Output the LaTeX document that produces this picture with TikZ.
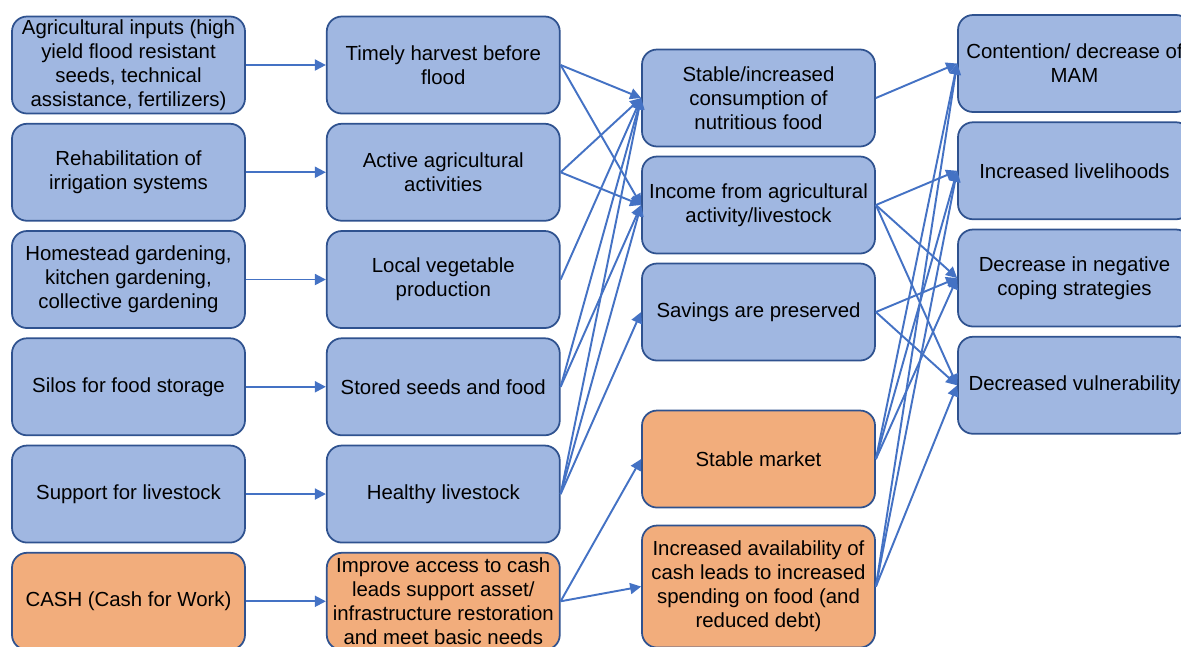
\documentclass[tikz,border=0pt]{standalone}
\usepackage{fontspec}
\setmainfont{Liberation Sans}
\usetikzlibrary{positioning, arrows.meta}

\definecolor{boxblue}{HTML}{A0B7E1}
\definecolor{boxorange}{HTML}{F2AD7C}
\definecolor{edgeblue}{HTML}{2F528F}
\definecolor{arrowblue}{HTML}{4472C4}

\begin{document}
\begin{tikzpicture} %Flood resilience pathway
	\tikzstyle{bluebox} = [rectangle, rounded corners=0.3cm, draw=edgeblue, line width=1pt, fill=boxblue, minimum width=4.66cm, minimum height=1.94cm, inner sep=1pt, align=center, font=\fontsize{11.6}{13.7}\selectfont]
	\tikzstyle{orangebox} = [bluebox, fill=boxorange]
	\tikzstyle{link} = [draw=arrowblue, line width=1.1pt, -{Triangle[length=2.2mm, width=2.2mm]}]
	\useasboundingbox (0,0) rectangle (23.62,-12.92);
	\clip (0,0) rectangle (23.62,-12.92);
	% inputs
	\node[bluebox] (A1) at (2.57,-1.30) {Agricultural inputs (high\\yield flood resistant\\seeds, technical\\assistance, fertilizers)};
	\node[bluebox, below=0.17cm of A1] (A2) {Rehabilitation of\\irrigation systems};
	\node[bluebox, below=0.17cm of A2] (A3) {Homestead gardening,\\kitchen gardening,\\collective gardening};
	\node[bluebox, below=0.17cm of A3] (A4) {Silos for food storage};
	\node[bluebox, below=0.17cm of A4] (A5) {Support for livestock};
	\node[orangebox, below=0.17cm of A5] (A6) {CASH (Cash for Work)};
	% outputs
	\node[bluebox, right=1.6cm of A1] (B1) {Timely harvest before\\flood};
	\node[bluebox, right=1.6cm of A2] (B2) {Active agricultural\\activities};
	\node[bluebox, right=1.6cm of A3] (B3) {Local vegetable\\production};
	\node[bluebox, right=1.6cm of A4] (B4) {Stored seeds and food};
	\node[bluebox, right=1.6cm of A5] (B5) {Healthy livestock};
	\node[orangebox, right=1.6cm of A6] (B6) {Improve access to cash\\leads support asset/\\infrastructure restoration\\and meet basic needs};
	% outcomes
	\node[bluebox] (C1) at (15.17,-1.96) {Stable/increased\\consumption of\\nutritious food};
	\node[bluebox, below=0.165cm of C1] (C2) {Income from agricultural\\activity/livestock};
	\node[bluebox, below=0.165cm of C2] (C3) {Savings are preserved};
	\node[orangebox, below=0.965cm of C3] (C4) {Stable market};
	\node[orangebox, minimum height=2.44cm, below=0.325cm of C4] (C5) {Increased availability of\\cash leads to increased\\spending on food (and\\reduced debt)};
	% impacts
	\node[bluebox] (D1) at (21.49,-1.27) {Contention/ decrease of\\MAM};
	\node[bluebox, below=0.17cm of D1] (D2) {Increased livelihoods};
	\node[bluebox, below=0.17cm of D2] (D3) {Decrease in negative\\coping strategies};
	\node[bluebox, below=0.17cm of D3] (D4) {Decreased vulnerability};
	% links
	\foreach \i in {1,...,6}
	{
		\draw[link] (A\i.east) -- (B\i.west);
	}
	\foreach \s/\t in {1/1,1/2,2/1,2/2,3/1,4/1,4/2,5/1,5/2,5/3,6/4,6/5}
	{
		\draw[link] (B\s.east) -- (C\t.west);
	}
	\foreach \s/\t in {1/1,2/2,2/3,2/4,3/3,3/4,4/1,4/2,4/3,5/1,5/2,5/4}
	{
		\draw[link] (C\s.east) -- (D\t.west);
	}
\end{tikzpicture}
\end{document}
